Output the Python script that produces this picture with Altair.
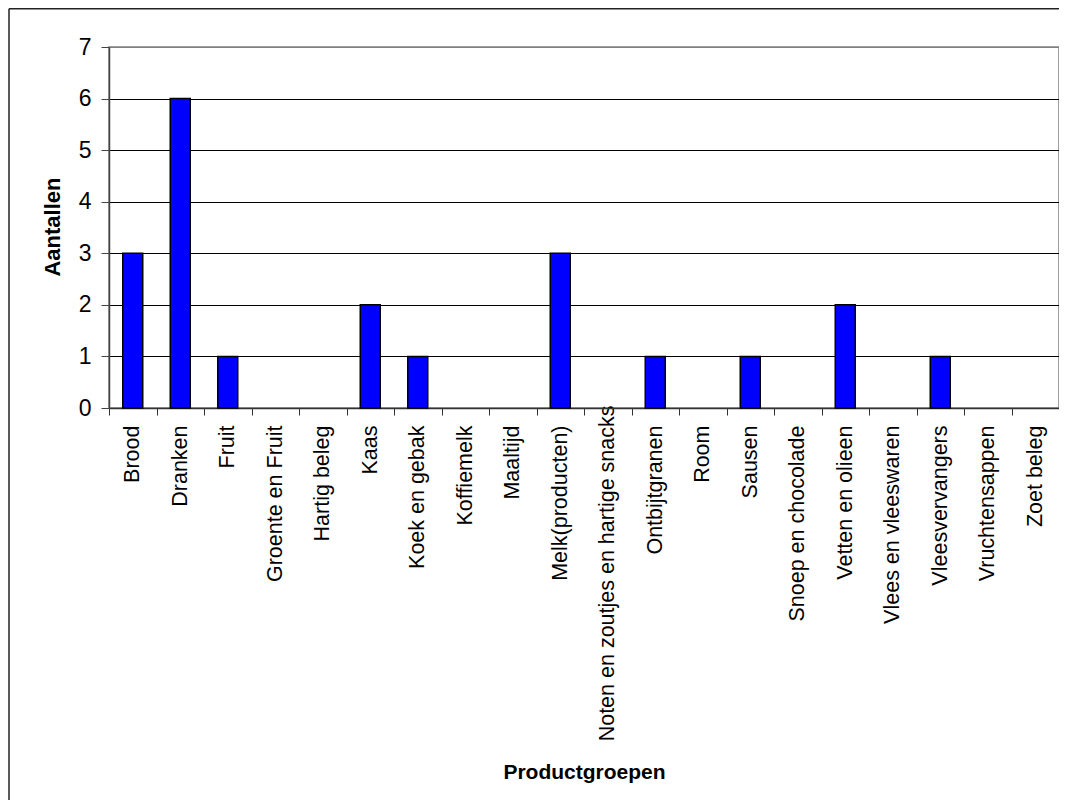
import altair as alt
import pandas as pd

categories = ["Brood", "Dranken", "Fruit", "Groente en Fruit", "Hartig beleg", "Kaas",
              "Koek en gebak", "Koffiemelk", "Maaltijd", "Melk(producten)",
              "Noten en zoutjes en hartige snacks", "Ontbijtgranen", "Room", "Sausen",
              "Snoep en chocolade", "Vetten en olieen", "Vlees en vleeswaren",
              "Vleesvervangers", "Vruchtensappen", "Zoet beleg"]
counts = [3, 6, 1, 0, 0, 2, 1, 0, 0, 3, 0, 1, 0, 1, 0, 2, 0, 1, 0, 0]
y_ticks = [0, 1, 2, 3, 4, 5, 6, 7]

df = pd.DataFrame({"Productgroepen": categories, "Aantallen": counts})

W, H = 950, 361
FONT = "Liberation Sans"

bars = alt.Chart(df).transform_filter("datum.Aantallen > 0").mark_bar(
    color="#0000FF", stroke="black", strokeWidth=1.5, size=20
).encode(
    x=alt.X("Productgroepen:N", sort=categories,
            scale=alt.Scale(domain=categories, paddingInner=0, paddingOuter=0),
            axis=alt.Axis(title="Productgroepen", labelAngle=270, labelFont=FONT,
                          labelFontSize=21.5, labelColor="black",
                          labelPadding=alt.condition(
                              "datum.value == 'Noten en zoutjes en hartige snacks'",
                              alt.value(-10), alt.value(10)),
                          labelLimit=400, tickBand="extent", tickSize=7,
                          tickColor="#333", domainColor="#333", domainWidth=1.5,
                          titleFont=FONT, titleFontSize=21, titleFontWeight="bold",
                          titleColor="black", titleY=364, titleBaseline="middle",
                          grid=False)),
    y=alt.Y("Aantallen:Q", scale=alt.Scale(domain=[0, 7], nice=False),
            axis=alt.Axis(title="Aantallen", values=y_ticks, format="d",
                          labelFont=FONT, labelFontSize=23, labelColor="black",
                          labelPadding=10, tickSize=8, tickColor="#444",
                          domainColor="#444", domainWidth=1.5,
                          grid=True,
                          gridColor=alt.condition("datum.value == 7",
                                                  alt.value("#808080"),
                                                  alt.value("black")),
                          gridWidth=1.2,
                          titleFont=FONT, titleFontSize=22, titleFontWeight="bold",
                          titleColor="black", titleX=-57, titleY=H / 2 - 1,
                          titleAngle=270, titleAlign="center",
                          titleBaseline="middle")),
)

frame_src = alt.Data(values=[{"k": 0}])
frame_top = alt.Chart(frame_src).mark_rule(color="#222", strokeWidth=1.5, clip=False).encode(
    x=alt.value(-100), x2=alt.value(W + 10), y=alt.value(-38.3), y2=alt.value(-38.3))
frame_left = alt.Chart(frame_src).mark_rule(color="#222", strokeWidth=1.5, clip=False).encode(
    x=alt.value(-100), x2=alt.value(-100), y=alt.value(-38.3), y2=alt.value(H + 420))

chart = alt.layer(bars, frame_top, frame_left).properties(
    width=W, height=H,
    autosize=alt.AutoSizeParams(type="none"),
    padding={"left": 101, "top": 39, "right": 0, "bottom": 392},
    background="white",
).configure_view(stroke="#808080", strokeWidth=1.5)

chart.save("out.html", embed_options={"renderer": "svg", "actions": False})
